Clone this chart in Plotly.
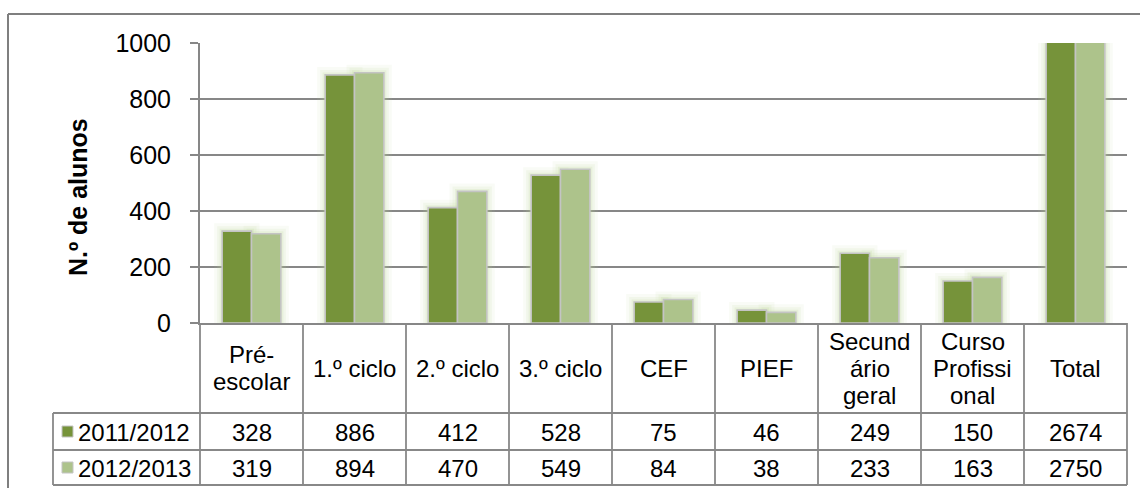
import plotly.graph_objects as go

# ---- data ----
categories = ["Pré-<br>escolar", "1.º ciclo", "2.º ciclo", "3.º ciclo", "CEF", "PIEF",
              "Secund<br>ário<br>geral", "Curso<br>Profissi<br>onal", "Total"]
series_names = ["2011/2012", "2012/2013"]
values_2011 = [328, 886, 412, 528, 75, 46, 249, 150, 2674]
values_2012 = [319, 894, 470, 549, 84, 38, 233, 163, 2750]
y_ticks = [0, 200, 400, 600, 800, 1000]

series_values = [values_2011, values_2012]
series_colors = ["#76933A", "#ADC38B"]
glow_rgb = "190,214,150"

# ---- page geometry (pixels) ----
W, H = 1140, 488
PL, PR, PT, PB = 200, 1127, 43, 323
PW, PH = PR - PL, PB - PT
n = len(categories)
col_w = PW / n

def px(x):
    return (x - PL) / PW

def py(y):
    return (PB - y) / PH

FONT = "Liberation Sans, Arial, sans-serif"
GRID = "#878787"
LINE = "#888888"

xs = list(range(n))
bar_w = 0.285
offsets = [-bar_w, 0.0]

fig = go.Figure()

# soft glow behind the bars
for lw, a in [(16, 0.09), (10, 0.12), (5, 0.18)]:
    for vals, off in zip(series_values, offsets):
        fig.add_trace(go.Bar(
            x=xs, y=vals, width=bar_w, offset=off,
            marker=dict(color="rgba(0,0,0,0)", line=dict(color=f"rgba({glow_rgb},{a})", width=lw)),
            showlegend=False, hoverinfo="skip"))

for name, vals, off, col in zip(series_names, series_values, offsets, series_colors):
    fig.add_trace(go.Bar(
        x=xs, y=vals, width=bar_w, offset=off, name=name,
        marker=dict(color=col, line=dict(color="#C4C4C4", width=1.6)),
        showlegend=False))

shapes = []

def hline(y, x0, x1, w=1.8, c=LINE):
    shapes.append(dict(type="line", xref="paper", yref="paper",
                       x0=px(x0), x1=px(x1), y0=py(y), y1=py(y),
                       line=dict(color=c, width=w)))

def vline(x, y0, y1, w=1.8, c=LINE):
    shapes.append(dict(type="line", xref="paper", yref="paper",
                       x0=px(x), x1=px(x), y0=py(y0), y1=py(y1),
                       line=dict(color=c, width=w)))

# chart frame
hline(14, 8, 1145, w=2, c="#7F7F7F")
vline(8, 14, 495, w=2, c="#7F7F7F")

# data table grid
TAB_L = 53
ROW_Y = [413, 450, 485]
for y in ROW_Y:
    hline(y, TAB_L, PR)
vline(TAB_L, ROW_Y[0], ROW_Y[-1])
for k in range(n + 1):
    vline(PL + k * col_w, PB, ROW_Y[-1])

annotations = []
TFONT = dict(family=FONT, size=24, color="black")

# header row: category names, one annotation per line
head_c = (PB + ROW_Y[0]) / 2
line_gap = 27
for i, cat in enumerate(categories):
    parts = cat.split("<br>")
    for j, part in enumerate(parts):
        yc = head_c + (j - (len(parts) - 1) / 2) * line_gap
        annotations.append(dict(xref="paper", yref="paper", x=(i + 0.5) / n, y=py(yc),
                                text=part, showarrow=False, font=TFONT,
                                xanchor="center", yanchor="middle"))

# value rows with legend keys
row_c = [(ROW_Y[0] + ROW_Y[1]) / 2, (ROW_Y[1] + ROW_Y[2]) / 2]
for r, (name, vals, col) in enumerate(zip(series_names, series_values, series_colors)):
    yc = row_c[r]
    shapes.append(dict(type="rect", xref="paper", yref="paper",
                       x0=px(62), x1=px(73), y0=py(yc - 5.5), y1=py(yc + 5.5),
                       fillcolor=col, line=dict(color="#C4C4C4", width=1)))
    annotations.append(dict(xref="paper", yref="paper", x=px(76), y=py(yc + 1),
                            text=name, showarrow=False, font=TFONT,
                            xanchor="left", yanchor="middle"))
    for i, v in enumerate(vals):
        annotations.append(dict(xref="paper", yref="paper", x=(i + 0.5) / n, y=py(yc + 1),
                                text=str(v), showarrow=False, font=TFONT,
                                xanchor="center", yanchor="middle"))

# axis title
annotations.append(dict(xref="paper", yref="paper", x=px(78), y=py(197),
                        text="<b>N.º de alunos</b>", textangle=-90, showarrow=False,
                        font=dict(family=FONT, size=25, color="black"),
                        xanchor="center", yanchor="middle"))

fig.update_layout(
    width=W, height=H,
    margin=dict(l=PL, r=W - PR, t=PT, b=H - PB, pad=0),
    barmode="overlay",
    paper_bgcolor="white", plot_bgcolor="white",
    font=dict(family=FONT, color="black"),
    xaxis=dict(range=[-0.5, n - 0.5], showticklabels=False, ticks="",
               showgrid=False, zeroline=False, showline=True,
               linecolor=GRID, linewidth=2, fixedrange=True),
    yaxis=dict(range=[0, 1000], tickvals=y_ticks, ticktext=[str(t) for t in y_ticks],
               ticks="outside", ticklen=8, tickwidth=1.8, tickcolor=GRID,
               ticklabelstandoff=14,
               tickfont=dict(family=FONT, size=25, color="black"),
               showgrid=True, gridcolor=GRID, gridwidth=1.8,
               zeroline=False, showline=True, linecolor=GRID, linewidth=2,
               fixedrange=True),
    shapes=shapes,
    annotations=annotations,
    showlegend=False,
)

fig.write_html("out.html")
